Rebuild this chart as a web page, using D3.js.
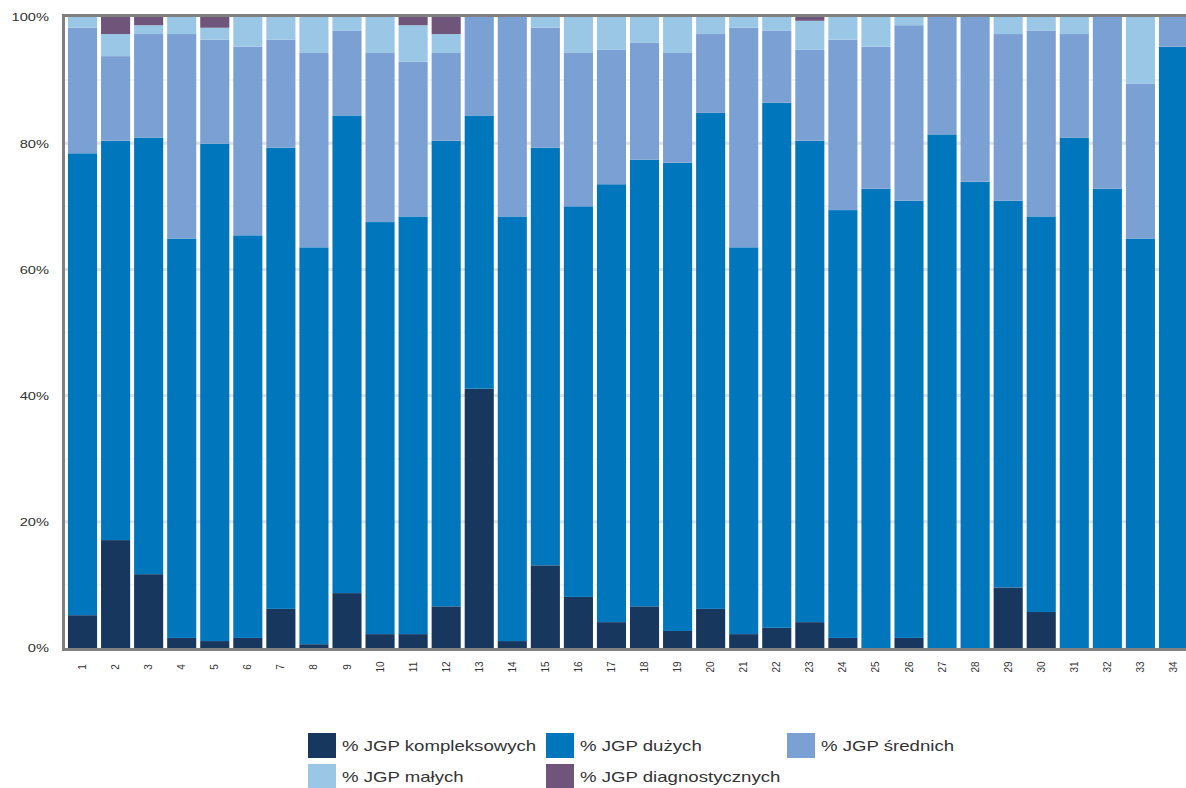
<!DOCTYPE html>
<html>
<head>
<meta charset="utf-8">
<script src="https://cdn.jsdelivr.net/npm/d3@7"></script>
<style>
  html, body { margin: 0; padding: 0; background: #fff; }
  svg { display: block; font-family: "Liberation Sans", Arial, sans-serif; }
</style>
</head>
<body>
<svg id="chart" width="1186" height="788"></svg>
<script>
// Udział JGP wg rodzaju (w %), 34 jednostki
const categories = d3.range(1, 35).map(String);

const kompleksowych = [5.2, 17.1, 11.7, 1.6, 1.1, 1.6, 6.2, 0.6, 8.7, 2.2, 2.2, 6.6, 41.1, 1.1, 13.1, 8.1, 4.1,
  6.6, 2.7, 6.2, 2.2, 3.2, 4.1, 1.6, 0, 1.6, 0, 0, 9.6, 5.7, 0, 0, 0, 0];
const duzych = [73.2, 63.3, 69.2, 63.3, 78.8, 63.8, 73.1, 62.9, 75.7, 65.3, 66.2, 73.8, 43.3, 67.3, 66.2, 61.9, 69.4,
  70.8, 74.2, 78.6, 61.3, 83.2, 76.3, 67.8, 72.8, 69.3, 81.4, 73.9, 61.3, 62.7, 80.9, 72.8, 64.9, 95.3];
const srednich = [19.9, 13.4, 16.4, 32.4, 16.5, 29.9, 17.1, 30.8, 13.4, 26.8, 24.5, 13.9, 15.6, 31.6, 19.0, 24.3, 21.3,
  18.5, 17.4, 12.5, 34.8, 11.4, 14.4, 27.0, 22.5, 27.8, 18.6, 26.1, 26.4, 29.4, 16.4, 27.2, 24.5, 4.7];
const malych = [1.7, 3.5, 1.4, 2.7, 1.9, 4.7, 3.6, 5.7, 2.2, 5.7, 5.8, 3.0, 0, 0, 1.7, 5.7, 5.2,
  4.1, 5.7, 2.7, 1.7, 2.2, 4.6, 3.6, 4.7, 1.3, 0, 0, 2.7, 2.2, 2.7, 0, 10.6, 0];
const diagnostycznych = [0, 2.7, 1.3, 0, 1.7, 0, 0, 0, 0, 0, 1.3, 2.7, 0, 0, 0, 0, 0,
  0, 0, 0, 0, 0, 0.6, 0, 0, 0, 0, 0, 0, 0, 0, 0, 0, 0];

const seriesNames = ["% JGP kompleksowych", "% JGP dużych", "% JGP średnich", "% JGP małych", "% JGP diagnostycznych"];
const seriesColors = ["#17375E", "#0077BD", "#7BA0D3", "#9BC7E6", "#6E5579"];
const yTicks = [0, 20, 40, 60, 80, 100];

const seriesValues = [kompleksowych, duzych, srednich, malych, diagnostycznych];
const rows = categories.map((c, i) => {
  const r = { cat: c };
  seriesNames.forEach((s, k) => { r[s] = seriesValues[k][i]; });
  return r;
});

const svg = d3.select("#chart");
const axisColor = "#808080";
const textColor = "#333";
const xStretch = 1.33;

const x = d3.scaleBand()
  .domain(categories)
  .range([66, 1190])
  .paddingInner(0.12)
  .paddingOuter(0.06);

const y = d3.scaleLinear().domain([0, 100]).range([648, 17]);

// siatka pomocnicza (co 10%) i główna (co 20%)
svg.append("g").selectAll("line")
  .data(d3.range(10, 100, 20))
  .join("line")
  .attr("x1", 64).attr("x2", 1190)
  .attr("y1", d => y(d)).attr("y2", d => y(d))
  .attr("stroke", "#f3f3f3").attr("stroke-width", 2);

svg.append("g").selectAll("line")
  .data(yTicks.filter(d => d > 0 && d < 100))
  .join("line")
  .attr("x1", 64).attr("x2", 1190)
  .attr("y1", d => y(d)).attr("y2", d => y(d))
  .attr("stroke", "#e2e2e2").attr("stroke-width", 3);

// słupki skumulowane
const stacked = d3.stack().keys(seriesNames)(rows);

svg.append("g")
  .selectAll("g")
  .data(stacked)
  .join("g")
  .attr("fill", (d, i) => seriesColors[i])
  .selectAll("rect")
  .data(d => d)
  .join("rect")
  .attr("x", d => x(d.data.cat))
  .attr("width", x.bandwidth())
  .attr("y", d => y(Math.min(100, d[1])))
  .attr("height", d => Math.max(0, y(d[0]) - y(Math.min(100, d[1]))));

// ramka obszaru wykresu
svg.append("rect")
  .attr("x", 63.5).attr("y", 15.5)
  .attr("width", 1200).attr("height", 634)
  .attr("fill", "none")
  .attr("stroke", axisColor)
  .attr("stroke-width", 3);

// oś Y
const yAxis = svg.append("g")
  .attr("transform", "translate(63,0)")
  .call(d3.axisLeft(y).tickValues(yTicks).tickFormat(d => d + "%").tickSize(0));
yAxis.select(".domain").remove();
yAxis.selectAll("text")
  .attr("fill", textColor)
  .attr("font-size", 11)
  .attr("x", -14 / xStretch)
  .attr("dy", "0.35em")
  .attr("transform", `scale(${xStretch},1)`);

// oś X
const xAxis = svg.append("g")
  .attr("transform", "translate(0,649)")
  .call(d3.axisBottom(x).tickSize(0));
xAxis.select(".domain").remove();
xAxis.selectAll("text")
  .attr("fill", textColor)
  .attr("font-size", 10)
  .attr("x", 0).attr("y", 0)
  .attr("dy", "0.35em")
  .attr("text-anchor", "middle")
  .attr("transform", "translate(0,18) rotate(-90)");

// legenda
const legendPos = [
  { x: 308, y: 733 }, { x: 546, y: 733 }, { x: 787, y: 733 },
  { x: 308, y: 764 }, { x: 546, y: 764 }
];
const legend = svg.append("g")
  .selectAll("g")
  .data(seriesNames)
  .join("g")
  .attr("transform", (d, i) => `translate(${legendPos[i].x},${legendPos[i].y})`);

legend.append("rect")
  .attr("width", 28).attr("height", 25)
  .attr("fill", (d, i) => seriesColors[i]);

legend.append("text")
  .attr("transform", `translate(34,13) scale(${xStretch},1)`)
  .attr("dy", "0.35em")
  .attr("font-size", 14)
  .attr("fill", textColor)
  .text(d => d);
</script>
</body>
</html>
